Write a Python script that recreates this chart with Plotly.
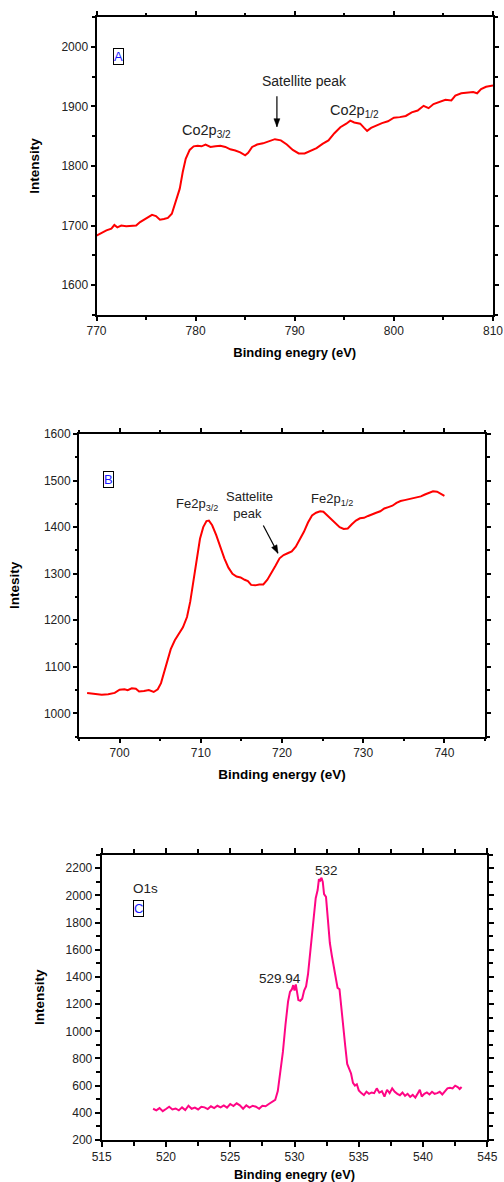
import plotly.graph_objects as go

W, H = 504, 1182

# ---------------- data ----------------
co_x = [770.0, 770.5, 771.0, 771.5, 771.8, 772.1, 772.5, 773.0, 773.5, 774.0, 774.4, 774.8,
        775.2, 775.6, 776.0, 776.4, 776.8, 777.2, 777.6, 778.0, 778.4, 778.7, 779.0, 779.4,
        779.8, 780.2, 780.6, 781.0, 781.5, 782.0, 782.5, 783.0, 783.5, 784.0, 784.5, 785.0,
        785.3, 785.7, 786.2, 786.8, 787.4, 788.0, 788.6, 789.2, 789.8, 790.4, 791.0, 791.6,
        792.2, 792.8, 793.4, 794.0, 794.6, 795.2, 795.6, 796.0, 796.6, 797.0, 797.3, 797.7,
        798.2, 798.8, 799.4, 800.0, 800.6, 801.2, 801.8, 802.4, 803.0, 803.5, 804.0, 804.6,
        805.2, 805.8, 806.2, 806.8, 807.4, 808.0, 808.4, 808.8, 809.3, 809.8, 810.0]
co_y = [1683, 1688, 1692, 1695, 1701, 1697, 1700, 1699, 1700, 1700, 1706, 1710,
        1713, 1718, 1716, 1710, 1711, 1713, 1720, 1742, 1762, 1790, 1812, 1827,
        1833, 1834, 1833, 1836, 1832, 1833, 1834, 1832, 1828, 1826, 1823, 1818,
        1822, 1832, 1836, 1838, 1841, 1845, 1843, 1836, 1827, 1821, 1821, 1826,
        1830, 1837, 1843, 1855, 1865, 1871, 1876, 1873, 1871, 1864, 1859, 1864,
        1868, 1872, 1875, 1881, 1882, 1884, 1890, 1893, 1901, 1897, 1904, 1908,
        1911, 1910, 1918, 1922, 1923, 1924, 1922, 1929, 1933, 1935, 1935]

fe_x = [696.0, 697.0, 697.8, 698.6, 699.4, 700.0, 700.6, 701.0, 701.5, 702.0, 702.4, 703.0,
        703.6, 704.2, 704.7, 705.1, 705.5, 705.9, 706.3, 706.8, 707.3, 707.8, 708.3, 708.7,
        709.1, 709.5, 709.9, 710.3, 710.7, 711.0, 711.4, 711.9, 712.4, 712.9, 713.4, 713.9,
        714.4, 714.9, 715.4, 715.8, 716.2, 716.7, 717.2, 717.7, 718.2, 718.7, 719.2, 719.7,
        720.2, 720.7, 721.2, 721.7, 722.2, 722.7, 723.2, 723.7, 724.2, 724.7, 725.1, 725.6,
        726.1, 726.6, 727.1, 727.6, 728.1, 728.6, 729.1, 729.6, 730.1, 730.6, 731.1, 731.6,
        732.1, 732.6, 733.1, 733.6, 734.1, 734.6, 735.1, 735.6, 736.1, 736.6, 737.1, 737.6,
        738.1, 738.6, 739.1, 739.6, 740.0]
fe_y = [1044, 1041, 1040, 1041, 1044, 1051, 1052, 1050, 1054, 1053, 1047, 1048,
        1050, 1046, 1052, 1065, 1090, 1115, 1138, 1157, 1170, 1185, 1207, 1240,
        1285, 1330, 1375, 1400, 1413, 1414, 1404, 1383, 1358, 1333, 1313, 1300,
        1294, 1292, 1287, 1284, 1276, 1275, 1277, 1277, 1287, 1301, 1317, 1333,
        1340, 1344, 1348, 1358, 1373, 1390, 1410, 1425, 1431, 1434, 1433, 1425,
        1418, 1408, 1400, 1396, 1397, 1406, 1414, 1419, 1420, 1424, 1428, 1431,
        1434, 1440, 1443, 1446, 1452, 1456, 1458, 1460, 1462, 1463, 1466, 1470,
        1474, 1477, 1476, 1471, 1467]

o_x = [519.0, 519.25, 519.5, 519.75, 520.0, 520.25, 520.5, 520.75, 521.0, 521.25, 521.5, 521.75,
       522.0, 522.25, 522.5, 522.75, 523.0, 523.25, 523.5, 523.75, 524.0, 524.25, 524.5, 524.75,
       525.0, 525.25, 525.5, 525.75, 526.0, 526.25, 526.5, 526.75, 527.0, 527.25, 527.5, 527.75,
       528.0, 528.25, 528.5, 528.7, 528.9, 529.1, 529.3, 529.5, 529.65, 529.8, 529.9, 530.0,
       530.1, 530.2, 530.3, 530.45, 530.6, 530.75, 530.9, 531.05, 531.2, 531.35, 531.5, 531.65,
       531.8, 531.9, 532.0, 532.1, 532.2, 532.3, 532.45, 532.6, 532.75, 532.9, 533.05, 533.2,
       533.35, 533.5, 533.65, 533.8, 533.95, 534.1, 534.25, 534.4, 534.55, 534.7, 534.85, 535.0,
       535.2, 535.4, 535.6, 535.8, 536.0, 536.2, 536.4, 536.6, 536.8, 537.0, 537.2, 537.4,
       537.6, 537.8, 538.0, 538.2, 538.4, 538.6, 538.8, 539.0, 539.2, 539.4, 539.6, 539.75,
       539.9, 540.1, 540.3, 540.5, 540.7, 540.9, 541.1, 541.3, 541.5, 541.7, 541.9, 542.1,
       542.3, 542.5, 542.7, 542.85, 543.0]
o_y = [430, 418, 435, 412, 428, 445, 425, 432, 418, 440, 420, 452,
       430, 438, 425, 445, 440, 428, 448, 435, 452, 440, 455, 438,
       465, 450, 470, 455, 430, 455, 438, 452, 445, 430, 452, 448,
       465, 480, 495, 560, 690, 850, 1050, 1220, 1290, 1310, 1340, 1300,
       1345, 1290, 1230, 1225, 1240, 1300, 1330, 1420, 1580, 1700, 1840, 1980,
       2040, 2120, 2110, 2130, 2100, 2010, 1990, 1820, 1650, 1560, 1470, 1380,
       1320, 1310, 1150, 1000, 890, 760, 720, 690, 620, 600, 610, 565,
       545, 530, 555, 540, 550, 545, 580, 548, 560, 520, 570, 545,
       580, 555, 540, 530, 550, 525, 540, 518, 532, 512, 545, 570,
       520, 540, 550, 535, 555, 540, 545, 555, 535, 560, 580, 585,
       580, 600, 590, 575, 590]

x_title_A = "Binding enegry (eV)"
x_title_B = "Binding energy (eV)"
x_title_C = "Binding enegry (eV)"
y_title_A = "Intensity"
y_title_B = "Intesity"
y_title_C = "Intensity"

# ---------------- layout helpers ----------------
def px_x(p):
    return p / W

def px_y(p):
    return 1 - p / H

FONT = "Liberation Sans, Arial, sans-serif"
TXT = "#222222"


def axis(rng, dtick, minor_dtick, domain, anchor, title, standoff, tsize=13.5,
         size=12, ticklen=4):
    return dict(
        range=rng, domain=domain, anchor=anchor,
        showline=True, linecolor="black", linewidth=2, mirror="ticks",
        ticks="outside", ticklen=ticklen, tickwidth=1.5, tickcolor="black",
        dtick=dtick, tick0=0,
        minor=dict(dtick=minor_dtick, ticks="outside", ticklen=ticklen - 1.5,
                   tickwidth=1.5, tickcolor="black", showgrid=False),
        showgrid=False, zeroline=False,
        tickfont=dict(family=FONT, size=size, color=TXT),
        title=dict(text="<b>%s</b>" % title, standoff=standoff,
                   font=dict(family=FONT, size=tsize, color="black")),
        automargin=False,
    )

fig = go.Figure()
fig.add_trace(go.Scatter(x=co_x, y=co_y, mode="lines", line=dict(color="#ff0000", width=2),
                         xaxis="x", yaxis="y", showlegend=False))
fig.add_trace(go.Scatter(x=fe_x, y=fe_y, mode="lines", line=dict(color="#ff0000", width=2),
                         xaxis="x2", yaxis="y2", showlegend=False))
fig.add_trace(go.Scatter(x=o_x, y=o_y, mode="lines", line=dict(color="#ff0584", width=2),
                         xaxis="x3", yaxis="y3", showlegend=False))

dA_x = [px_x(96.5), px_x(493)]
dA_y = [px_y(315), px_y(17)]
dB_x = [px_x(79), px_x(485)]
dB_y = [px_y(736.7), px_y(434)]
dC_x = [px_x(101.7), px_x(487.3)]
dC_y = [px_y(1140), px_y(854.7)]

ann = []
shapes = []

def label(text, x, y, xr, yr, size=14, align="center"):
    ann.append(dict(text=text, xref=xr, yref=yr, x=x, y=y, showarrow=False,
                    align=align, xanchor="center", yanchor="middle",
                    font=dict(family=FONT, size=size, color=TXT)))

def boxlabel(text, x, y, xr, yr):
    ann.append(dict(text=text, xref=xr, yref=yr, x=x, y=y, showarrow=False,
                    xanchor="center", yanchor="middle", bordercolor="black",
                    borderwidth=1, borderpad=0,
                    font=dict(family=FONT, size=13, color="#1a1aff")))

def arrow(x0, y0, x1, y1, xr, yr, head_path):
    shapes.append(dict(type="line", xref=xr, yref=yr, x0=x0, y0=y0, x1=x1, y1=y1,
                       line=dict(color="black", width=1.2)))
    shapes.append(dict(type="path", xref=xr, yref=yr, xsizemode="pixel", ysizemode="pixel",
                       xanchor=x1, yanchor=y1, path=head_path,
                       fillcolor="black", line=dict(color="black", width=0.5)))

# Panel A
boxlabel("A", 772.2, 1984, "x", "y")
label("Co2p<sub>3/2</sub>", 781.1, 1858, "x", "y", 14.5)
label("Satellite peak", 791.0, 1943, "x", "y", 14)
label("Co2p<sub>1/2</sub>", 796.0, 1893, "x", "y", 14.5)
arrow(788.2, 1917, 788.2, 1866, "x", "y", "M0,0 L-3,8 L3,8 Z")

# Panel B
boxlabel("B", 698.6, 1502.6, "x2", "y2")
label("Fe2p<sub>3/2</sub>", 709.5, 1449, "x2", "y2", 13)
label("Sattelite<br>  peak", 716.0, 1447, "x2", "y2", 13, align="left")
label("Fe2p<sub>1/2</sub>", 726.1, 1460, "x2", "y2", 13)
arrow(717.7, 1403.7, 719.5, 1344, "x2", "y2", "M0,0 L-1.0,8.5 L-6.3,5.7 Z")

# Panel C
label("O1s", 518.4, 2050, "x3", "y3", 13.5)
boxlabel("C", 517.9, 1902, "x3", "y3")
label("532", 532.5, 2186, "x3", "y3", 13.5)
label("529.94", 528.9, 1392, "x3", "y3", 13.5)

fig.update_layout(
    width=W, height=H, margin=dict(l=0, r=0, t=0, b=0),
    paper_bgcolor="white", plot_bgcolor="white", showlegend=False,
    xaxis=axis([770, 810], 10, 5, dA_x, "y", x_title_A, 10, 13),
    yaxis=axis([1550, 2050], 100, 50, dA_y, "x", y_title_A, 19),
    xaxis2=axis([695, 745], 10, 5, dB_x, "y2", x_title_B, 10, 13.5),
    yaxis2=axis([950, 1600], 100, 50, dB_y, "x2", y_title_B, 21),
    xaxis3=axis([515, 545], 5, 2.5, dC_x, "y3", x_title_C, 10, 12.8, ticklen=5),
    yaxis3=axis([200, 2300], 200, 100, dC_y, "x3", y_title_C, 18, ticklen=5),
    annotations=ann,
    shapes=shapes,
)

fig.write_html("out.html")
